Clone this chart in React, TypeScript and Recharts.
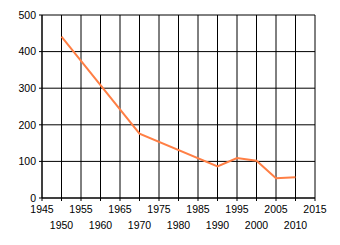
import React from 'react';
import { LineChart, Line, XAxis, YAxis, CartesianGrid } from 'recharts';

const years = [1950, 1970, 1990, 1995, 2000, 2005, 2010];
const values = [441, 176, 86, 109, 102, 54, 57];
const xTicks = [1945, 1950, 1955, 1960, 1965, 1970, 1975, 1980, 1985, 1990, 1995, 2000, 2005, 2010, 2015];
const yTicks = [0, 100, 200, 300, 400, 500];

const data = years.map((y, i) => ({ year: y, value: values[i] }));

const FONT = 'Liberation Sans';

const XTick = (props: any) => {
  const { x, y, payload, index } = props;
  const row = index % 2;
  return (
    <text x={x} y={y + (row === 0 ? 9.5 : 25.5)} textAnchor="middle" fontFamily={FONT} fontSize={10.5} fill="#000">
      {payload.value}
    </text>
  );
};

export default function App() {
  return (
    <div style={{ position: 'fixed', left: 0, top: 0, width: 340, height: 245, background: '#fff' }}>
      <LineChart width={340} height={245} data={data} margin={{ top: 15, right: 25, left: 0, bottom: 0 }}>
        <CartesianGrid stroke="#000" strokeWidth={1} strokeOpacity={1} />
        <XAxis
          dataKey="year"
          type="number"
          domain={[1945, 2015]}
          ticks={xTicks}
          interval={0}
          height={47}
          tickSize={3}
          tickMargin={2}
          axisLine={{ stroke: '#000' }}
          tickLine={{ stroke: '#000' }}
          tick={<XTick />}
        />
        <YAxis
          type="number"
          domain={[0, 500]}
          ticks={yTicks}
          width={42}
          tickSize={3}
          tickMargin={3}
          axisLine={{ stroke: '#000' }}
          tickLine={{ stroke: '#000' }}
          tick={{ fill: '#000', fontFamily: FONT, fontSize: 10.5 }}
        />
        <Line
          type="linear"
          dataKey="value"
          stroke="#FF7F45"
          strokeWidth={2}
          dot={false}
          isAnimationActive={false}
        />
      </LineChart>
    </div>
  );
}
